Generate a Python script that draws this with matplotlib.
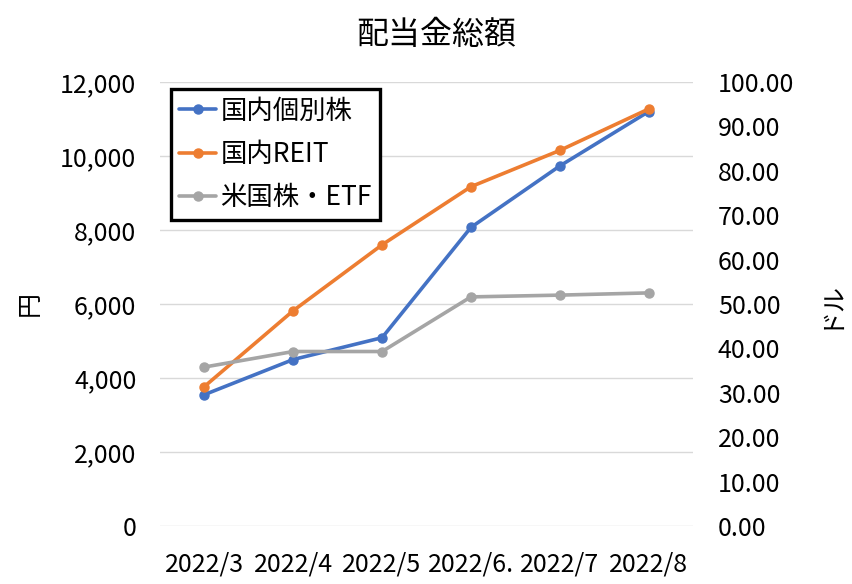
import matplotlib
matplotlib.use('Agg')
import matplotlib.pyplot as plt

plt.rcParams['font.family'] = ['Noto Sans CJK JP', 'DejaVu Sans']

# ── Data ─────────────────────────────────────────────────────────────────────
months = ["2022/3", "2022/4", "2022/5", "2022/6.", "2022/7", "2022/8"]
domestic_stock = [3550, 4500, 5090, 8070, 9730, 11200]    # 円
domestic_reit = [3770, 5820, 7600, 9170, 10150, 11270]    # 円
us_stock_etf = [35.8, 39.3, 39.3, 51.6, 52.0, 52.5]        # ドル

left_ticks = [0, 2000, 4000, 6000, 8000, 10000, 12000]
right_ticks = [0, 10, 20, 30, 40, 50, 60, 70, 80, 90, 100]

BLUE = "#4472C4"
ORANGE = "#ED7D31"
GRAY = "#A5A5A5"

# ── Figure ───────────────────────────────────────────────────────────────────
fig = plt.figure(figsize=(8.53, 5.84), dpi=100)
ax = fig.add_axes([160 / 853, 58 / 584, 533 / 853, 444 / 584])
ax2 = ax.twinx()

x = list(range(len(months)))
line_kw = dict(linewidth=2.6, marker="o", markersize=6.5, solid_capstyle="round")
l1, = ax.plot(x, domestic_stock, color=BLUE, label="国内個別株", **line_kw)
l2, = ax.plot(x, domestic_reit, color=ORANGE, label="国内REIT", **line_kw)
l3, = ax2.plot(x, us_stock_etf, color=GRAY, label="米国株・ETF", **line_kw)

ax.set_xlim(-0.5, len(months) - 0.5)
ax.set_ylim(0, 12000)
ax2.set_ylim(0, 100)

ax.set_xticks(x)
ax.set_xticklabels(months)
ax.set_yticks(left_ticks)
ax.set_yticklabels([f"{v:,}" for v in left_ticks])
ax2.set_yticks(right_ticks)
ax2.set_yticklabels([f"{v:.2f}" for v in right_ticks])

ax.grid(axis="y", color="#D9D9D9", linewidth=1.0)
ax.set_axisbelow(True)
for a in (ax, ax2):
    for s in a.spines.values():
        s.set_visible(False)
    a.tick_params(length=0, labelsize=18, colors="black")
ax.tick_params(axis="y", pad=17)
ax2.tick_params(axis="y", pad=18)
ax.tick_params(axis="x", pad=18)

# axis titles (Excel style, rotated)
fig.text(30 / 853, 1 - 304 / 584, "円", fontsize=18, rotation=90,
         ha="center", va="center")
fig.text(830 / 853, 1 - 304 / 584, "ドル", fontsize=18, rotation=90,
         ha="center", va="center")

fig.text(436 / 853, 1 - 35 / 584, "配当金総額", fontsize=23, ha="center", va="center")

leg = ax2.legend(handles=[l1, l2, l3], loc="upper left",
                 bbox_to_anchor=(171 / 853, 1 - 89 / 584),
                 bbox_transform=fig.transFigure, fontsize=19,
                 frameon=True, fancybox=False, framealpha=1,
                 handlelength=1.4, handletextpad=0.15, labelspacing=0.62,
                 borderpad=0.32, borderaxespad=0)
leg.get_frame().set_edgecolor("black")
leg.get_frame().set_linewidth(2.4)

fig.savefig("out.png", dpi=100)
